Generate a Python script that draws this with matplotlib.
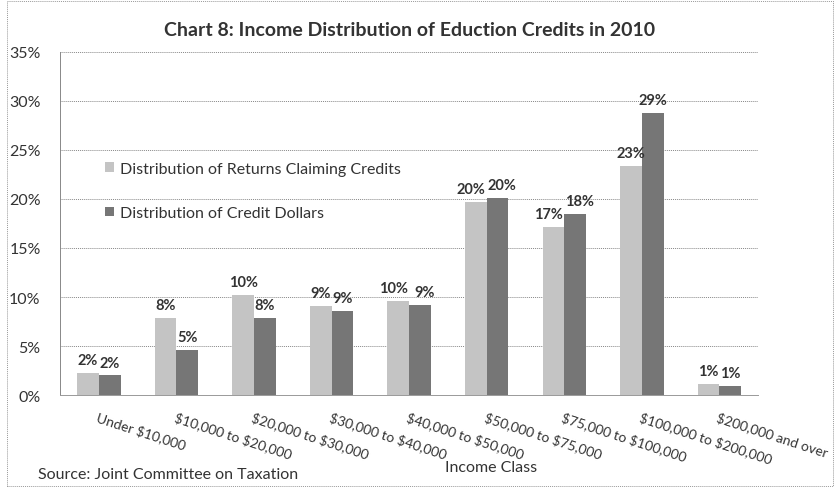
import numpy as np
import matplotlib.pyplot as plt
from matplotlib.ticker import PercentFormatter

# income classes and shares (percent)
categories = ["Under $10,000", "$10,000 to $20,000", "$20,000 to $30,000",
              "$30,000 to $40,000", "$40,000 to $50,000", "$50,000 to $75,000",
              "$75,000 to $100,000", "$100,000 to $200,000", "$200,000 and over"]
returns_share = [2.3, 7.9, 10.2, 9.1, 9.6, 19.7, 17.1, 23.4, 1.1]
dollars_share = [2.0, 4.6, 7.9, 8.6, 9.2, 20.1, 18.5, 28.8, 0.9]
returns_labels = ["2%", "8%", "10%", "9%", "10%", "20%", "17%", "23%", "1%"]
dollars_labels = ["2%", "5%", "8%", "9%", "9%", "20%", "18%", "29%", "1%"]

plt.rcParams['font.family'] = ['Lato', 'DejaVu Sans']
plt.rcParams['text.parse_math'] = False

fig = plt.figure(figsize=(8.35, 4.89), dpi=100)
ax = fig.add_axes([0.072, 0.19, 0.836, 0.702])

x = np.arange(len(categories))
w = 0.28
b1 = ax.bar(x - w / 2, returns_share, w, color="#c4c4c4",
            label="Distribution of Returns Claiming Credits")
b2 = ax.bar(x + w / 2, dollars_share, w, color="#767676",
            label="Distribution of Credit Dollars")

# value labels; push a pair apart a little when they sit at the same height
for r1, r2, l1, l2 in zip(b1, b2, returns_labels, dollars_labels):
    h1, h2 = r1.get_height(), r2.get_height()
    nudge = 0.06 if abs(h1 - h2) < 1.5 and len(l1 + l2) >= 5 else 0.0
    ax.text(r1.get_x() + r1.get_width() / 2 - nudge, h1 + 0.6, l1,
            ha="center", va="bottom", fontsize=10.5, fontweight="bold", color="#333333")
    ax.text(r2.get_x() + r2.get_width() / 2 + nudge, h2 + 0.6, l2,
            ha="center", va="bottom", fontsize=10.5, fontweight="bold", color="#333333")

ax.set_xlim(-0.5, len(categories) - 0.5)
ax.set_ylim(0, 35)
ax.set_yticks(np.arange(0, 36, 5))
ax.yaxis.set_major_formatter(PercentFormatter(decimals=0))
ax.tick_params(axis="y", labelsize=11.5, length=0, pad=14, colors="#333333")
ax.yaxis.grid(True, linestyle=(0, (1, 1)), color="#888888", linewidth=0.7)
ax.set_axisbelow(True)

ax.set_xticks(x)
ax.set_xticklabels(categories, rotation=-18, ha="left", rotation_mode="anchor",
                   fontsize=10, color="#333333")
ax.tick_params(axis="x", length=0, pad=11)

for s in ["top", "right"]:
    ax.spines[s].set_visible(False)
ax.spines["left"].set_linestyle((0, (1, 1)))
ax.spines["left"].set_color("#888888")
ax.spines["left"].set_linewidth(0.7)
ax.spines["bottom"].set_color("#999999")
ax.spines["bottom"].set_linewidth(0.7)

ax.legend(loc="upper left", bbox_to_anchor=(0.055, 0.698), frameon=False,
          fontsize=11.5, labelspacing=1.9, handlelength=0.55, handleheight=0.55,
          handletextpad=0.4, labelcolor="#333333", borderaxespad=0)

fig.text(0.49, 0.937, "Chart 8: Income Distribution of Eduction Credits in 2010",
         ha="center", va="center", fontsize=14, fontweight="bold", color="#333333")
fig.text(0.588, 0.043, "Income Class", ha="center", va="center", fontsize=11.5, color="#333333")
fig.text(0.045, 0.029, "Source: Joint Committee on Taxation", ha="left", va="center",
         fontsize=11.5, color="#333333")

# dotted outer border
fig.patches.append(plt.Rectangle((0.008, 0.005), 0.99, 0.99, transform=fig.transFigure,
                                 fill=False, linestyle=(0, (1, 1)), edgecolor="#999999",
                                 linewidth=0.7))

fig.savefig("out.png", dpi=100)
